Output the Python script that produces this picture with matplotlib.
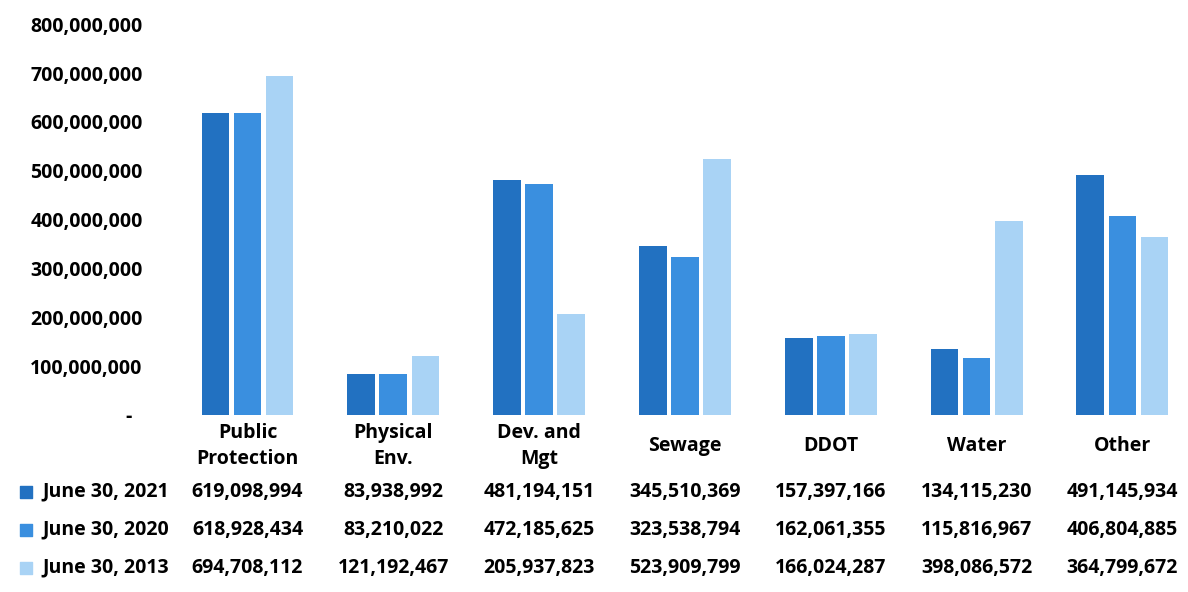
import matplotlib.pyplot as plt
from matplotlib.ticker import FuncFormatter
import matplotlib.transforms as mtransforms

plt.rcParams['font.family'] = ['Open Sans', 'DejaVu Sans']
plt.rcParams['font.weight'] = 'bold'

categories = ['Public\nProtection', 'Physical\nEnv.', 'Dev. and\nMgt', 'Sewage', 'DDOT', 'Water', 'Other']
series_names = ['June 30, 2021', 'June 30, 2020', 'June 30, 2013']
june_2021 = [619098994, 83938992, 481194151, 345510369, 157397166, 134115230, 491145934]
june_2020 = [618928434, 83210022, 472185625, 323538794, 162061355, 115816967, 406804885]
june_2013 = [694708112, 121192467, 205937823, 523909799, 166024287, 398086572, 364799672]
colors = ['#2271c1', '#3a8fdf', '#a9d3f5']

series = [june_2021, june_2020, june_2013]
FS = 14

fig = plt.figure(figsize=(11.88, 5.92), dpi=100)
ax = fig.add_axes([0.147, 0.299, 0.853, 0.66])

x = range(len(categories))
offsets = [-0.22, 0.0, 0.22]
for values, off, c in zip(series, offsets, colors):
    ax.bar([i + off for i in x], values, width=0.19, color=c)

ax.set_xlim(-0.5, 6.45)
ax.set_ylim(0, 800000000)
ax.set_yticks(range(0, 800000001, 100000000))
ax.yaxis.set_major_formatter(FuncFormatter(lambda v, p: '-  ' if v == 0 else f'{v:,.0f}'))
ax.tick_params(axis='y', length=0, labelsize=FS, pad=23)
ax.tick_params(axis='x', length=0, labelbottom=False)
for s in ax.spines.values():
    s.set_visible(False)

# data table under the chart
trans = mtransforms.blended_transform_factory(ax.transData, ax.transAxes)
for i, cat in enumerate(categories):
    ax.text(i, -0.08, cat, transform=trans, ha='center', va='center',
            fontsize=FS, linespacing=1.4)

row_y = [-0.197, -0.294, -0.391]
ftrans = mtransforms.blended_transform_factory(fig.transFigure, ax.transAxes)
for name, values, c, yy in zip(series_names, series, colors, row_y):
    ax.text(0.1425, yy, name, transform=ftrans, ha='right', va='center', fontsize=FS)
    ax.scatter([0.022], [yy], transform=ftrans, marker='s', s=80, color=c, clip_on=False)
    for i, v in enumerate(values):
        ax.text(i, yy, f'{v:,}', transform=trans, ha='center', va='center', fontsize=FS)

fig.savefig('out.png', dpi=100)
